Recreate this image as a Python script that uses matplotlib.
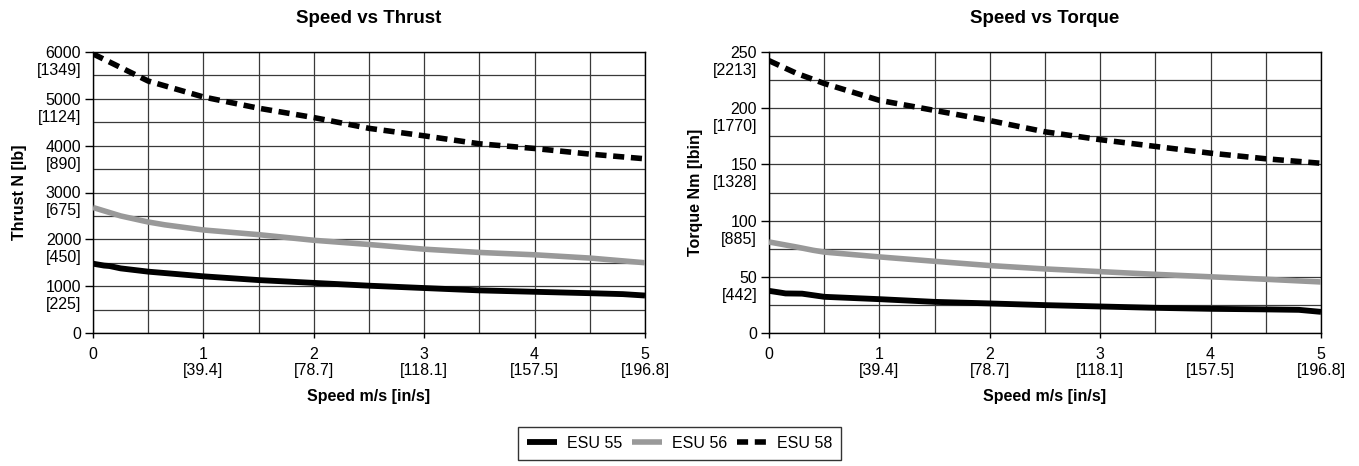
import matplotlib
matplotlib.use("Agg")
import matplotlib.pyplot as plt
import matplotlib.transforms as mtransforms
from matplotlib.ticker import MultipleLocator

plt.rcParams['font.family'] = ['Liberation Sans', 'DejaVu Sans']

# ---- data ----
thrust_x55 = [0, 0.1, 0.15, 0.25, 0.5, 1, 1.5, 2, 2.5, 3, 3.5, 4, 4.5, 4.8, 5]
thrust_55 = [1480, 1440, 1430, 1380, 1310, 1210, 1130, 1070, 1010, 960, 910, 880, 850, 830, 800]
thrust_x56 = [0, 0.25, 0.5, 0.65, 1, 1.5, 2, 2.5, 3, 3.5, 4, 4.5, 5]
thrust_56 = [2680, 2500, 2370, 2310, 2200, 2100, 1980, 1890, 1790, 1720, 1670, 1600, 1500]
thrust_x58 = [0, 0.5, 1, 1.5, 2, 2.5, 3, 3.5, 4, 4.5, 5]
thrust_58 = [5960, 5380, 5040, 4800, 4600, 4370, 4210, 4040, 3940, 3820, 3720]

torque_x55 = [0, 0.1, 0.15, 0.3, 0.5, 1, 1.5, 2, 2.5, 3, 3.5, 4, 4.5, 4.8, 5]
torque_55 = [37.5, 36, 35.2, 35, 32.2, 30.1, 27.7, 26.3, 24.8, 23.6, 22.4, 21.5, 21, 20.6, 18.8]
torque_x56 = [0, 0.25, 0.4, 0.5, 1, 1.5, 2, 2.5, 3, 3.5, 4, 4.5, 5]
torque_56 = [81, 76.5, 73.6, 72, 67.7, 63.8, 60, 57, 54.6, 52.2, 50, 47.8, 45.4]
torque_x58 = [0, 0.25, 0.5, 1, 1.5, 2, 2.5, 3, 3.5, 4, 4.5, 5]
torque_58 = [242.3, 231, 222, 207, 198, 189, 179, 172, 166, 160, 155, 151]

x_ticks = [0, 1, 2, 3, 4, 5]
x_ticklabels = ["0", "1\n[39.4]", "2\n[78.7]", "3\n[118.1]", "4\n[157.5]", "5\n[196.8]"]
thrust_ticks = [0, 1000, 2000, 3000, 4000, 5000, 6000]
thrust_ticklabels = ["0", "1000", "2000", "3000", "4000", "5000", "6000"]
thrust_sublabels = ["", "[225]", "[450]", "[675]", "[890]", "[1124]", "[1349]"]
torque_ticks = [0, 50, 100, 150, 200, 250]
torque_ticklabels = ["0", "50", "100", "150", "200", "250"]
torque_sublabels = ["", "[442]", "[885]", "[1328]", "[1770]", "[2213]"]
series_names = ["ESU 55", "ESU 56", "ESU 58"]

FS = 11.5
YTICK_LEN = 5.5
YTICK_PAD = 3

fig = plt.figure(figsize=(13.59, 4.66), dpi=100)
ax1 = fig.add_axes([93/1359, 1-333/466, (645-93)/1359, (333-52)/466])
ax2 = fig.add_axes([769/1359, 1-333/466, (1321-769)/1359, (333-52)/466])

def style(ax, yticks, yticklabels, ysublabels, ymax, yminor, title, ylabel, data):
    (x55, y55), (x56, y56), (x58, y58) = data
    l1, = ax.plot(x55, y55, color='black', lw=4.2, solid_capstyle='butt', zorder=5)
    l2, = ax.plot(x56, y56, color='#999999', lw=4, solid_capstyle='butt', zorder=4)
    l3, = ax.plot(x58, y58, color='black', lw=4, linestyle=(0, (2.0, 1.2)), zorder=5)
    ax.set_xlim(0, 5)
    ax.set_ylim(0, ymax)
    ax.xaxis.set_minor_locator(MultipleLocator(0.5))
    ax.yaxis.set_minor_locator(MultipleLocator(yminor))
    ax.grid(True, which='both', color='#3a3a3a', lw=0.9)
    ax.set_axisbelow(True)
    ax.set_xticks(x_ticks)
    ax.set_xticklabels(x_ticklabels, fontsize=FS, linespacing=1.1)
    ax.set_yticks(yticks)
    ax.set_yticklabels(yticklabels, fontsize=FS)
    # second line (imperial units) under each y tick label
    off = mtransforms.ScaledTranslation(-(YTICK_LEN + YTICK_PAD) / 72, -17 / 100, fig.dpi_scale_trans)
    tr = ax.get_yaxis_transform() + off
    for v, s in zip(yticks, ysublabels):
        if s:
            ax.text(0, v, s, transform=tr, ha='right', va='center_baseline', fontsize=FS, clip_on=False)
    ax.tick_params(axis='y', which='major', length=YTICK_LEN, width=1, color='black', pad=YTICK_PAD)
    ax.tick_params(axis='x', which='major', length=3.6, width=1, color='black', pad=6.5)
    ax.tick_params(which='minor', length=0)
    for s in ax.spines.values():
        s.set_color('black')
        s.set_linewidth(1)
    ax.set_title(title, fontsize=13.5, fontweight='bold', pad=21)
    ax.set_xlabel("Speed m/s [in/s]", fontsize=FS, fontweight='bold', labelpad=7.5)
    ax.set_ylabel(ylabel, fontsize=FS, fontweight='bold')
    ax.yaxis.set_label_coords(-0.12, 0.5)
    return l1, l2, l3

lines = style(ax1, thrust_ticks, thrust_ticklabels, thrust_sublabels, 6000, 500,
              "Speed vs Thrust", "Thrust N [lb]",
              [(thrust_x55, thrust_55), (thrust_x56, thrust_56), (thrust_x58, thrust_58)])
style(ax2, torque_ticks, torque_ticklabels, torque_sublabels, 250, 25,
      "Speed vs Torque", "Torque Nm [lbin]",
      [(torque_x55, torque_55), (torque_x56, torque_56), (torque_x58, torque_58)])

leg = fig.legend(lines, series_names, loc='center', bbox_to_anchor=(679.5/1359, 1-443.5/466), ncol=3,
                 fontsize=FS, frameon=True, fancybox=False, edgecolor='black',
                 handlelength=1.9, columnspacing=0.6, handletextpad=0.6, borderpad=0.55,
                 borderaxespad=0)
leg.get_frame().set_linewidth(1)

fig.savefig("out.png", dpi=100)
